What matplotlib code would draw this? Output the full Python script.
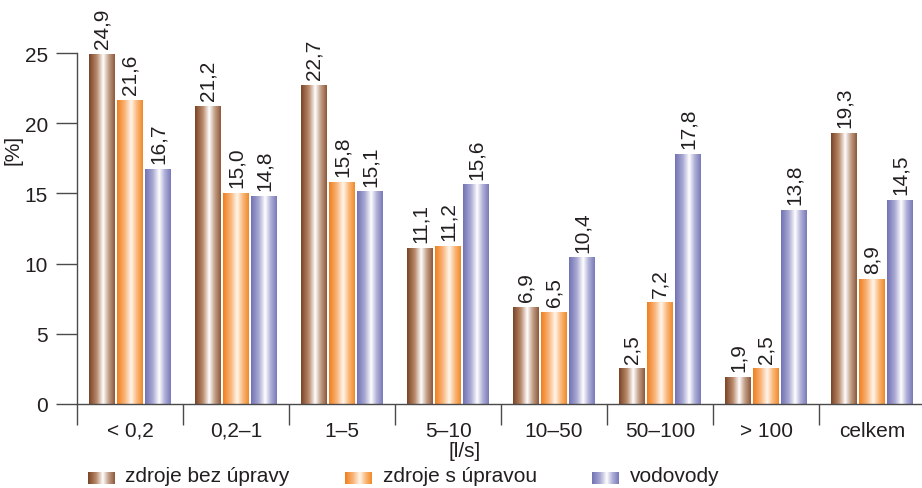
import numpy as np
import matplotlib
matplotlib.use("Agg")
import matplotlib.pyplot as plt
from matplotlib.colors import LinearSegmentedColormap

plt.rcParams["font.family"] = ["Liberation Sans", "DejaVu Sans"]

categories = ["< 0,2", "0,2\u20131", "1\u20135", "5\u201310", "10\u201350", "50\u2013100", "> 100", "celkem"]
series_names = ["zdroje bez úpravy", "zdroje s úpravou", "vodovody"]
bez_upravy = [24.9, 21.2, 22.7, 11.1, 6.9, 2.5, 1.9, 19.3]
s_upravou = [21.6, 15.0, 15.8, 11.2, 6.5, 7.2, 2.5, 8.9]
vodovody = [16.7, 14.8, 15.1, 15.6, 10.4, 17.8, 13.8, 14.5]

# dark edge -> white highlight -> mid tone, left to right across each bar
gradients = [
    ["#7b4526", "#b98a6c", "#ffffff", "#c7a58f", "#8e5a3c"],
    ["#f07f1e", "#f9b57a", "#fff6ec", "#fbbd84", "#f08a2a"],
    ["#7373b5", "#a9a9d3", "#ffffff", "#b4b4da", "#7a7aba"],
]
cmaps = [LinearSegmentedColormap.from_list(f"g{i}", list(zip([0, 0.3, 0.55, 0.75, 1], c)))
         for i, c in enumerate(gradients)]
ramp = np.linspace(0, 1, 64).reshape(1, -1)

text_color = "#231f20"
line_color = "#4a4a4a"
fs = 15

fig = plt.figure(figsize=(9.22, 4.89), dpi=100)
ax = fig.add_axes([77 / 922, 1 - 405 / 489, 845 / 922, 351 / 489])

x = np.arange(len(categories))
width = 0.245
gap = 0.02
offsets = [-(width + gap), 0, width + gap]

for vals, off, cmap in zip([bez_upravy, s_upravou, vodovody], offsets, cmaps):
    bars = ax.bar(x + off, vals, width, color="none", edgecolor="none")
    for b, v in zip(bars, vals):
        x0 = b.get_x()
        ax.imshow(ramp, cmap=cmap, aspect="auto", interpolation="bilinear",
                  extent=(x0, x0 + b.get_width(), 0, b.get_height()), zorder=2)
        ax.text(x0 + b.get_width() / 2, b.get_height() + 0.45, f"{v:.1f}".replace(".", ","),
                rotation=90, ha="center", va="bottom", fontsize=fs,
                color=text_color, clip_on=False)

ax.set_xlim(-0.5, 7.47)
ax.set_ylim(0, 25)

ax.spines["top"].set_visible(False)
ax.spines["right"].set_visible(False)
for s in ("left", "bottom"):
    ax.spines[s].set_color(line_color)
    ax.spines[s].set_linewidth(1.0)

ax.set_yticks([0, 5, 10, 15, 20, 25])
ax.tick_params(axis="y", length=15, width=1.0, color=line_color, labelsize=fs,
               labelcolor=text_color, pad=6)

ax.set_xticks(x)
ax.set_xticklabels(categories)
ax.set_xticks(np.arange(len(categories)) - 0.5, minor=True)
ax.tick_params(axis="x", which="major", length=0, labelsize=fs, labelcolor=text_color, pad=12)
ax.tick_params(axis="x", which="minor", length=15, width=1.0, color=line_color)

fig.text(465 / 922, 1 - 452 / 489, "[l/s]", ha="center", va="center", fontsize=fs, color=text_color)
fig.text(13 / 922, 1 - 150 / 489, "[%]", ha="center", va="center", rotation=90,
         fontsize=fs, color=text_color)

# legend row
patch_x = [88, 345, 592]
text_x = [125, 383, 630]
for name, cmap, px, tx in zip(series_names, cmaps, patch_x, text_x):
    lax = fig.add_axes([px / 922, 1 - 485 / 489, 27 / 922, 12 / 489])
    lax.imshow(ramp, cmap=cmap, aspect="auto", interpolation="bilinear")
    lax.axis("off")
    fig.text(tx / 922, 1 - 477 / 489, name, ha="left", va="center", fontsize=fs, color=text_color)

fig.savefig("out.png", dpi=100)
